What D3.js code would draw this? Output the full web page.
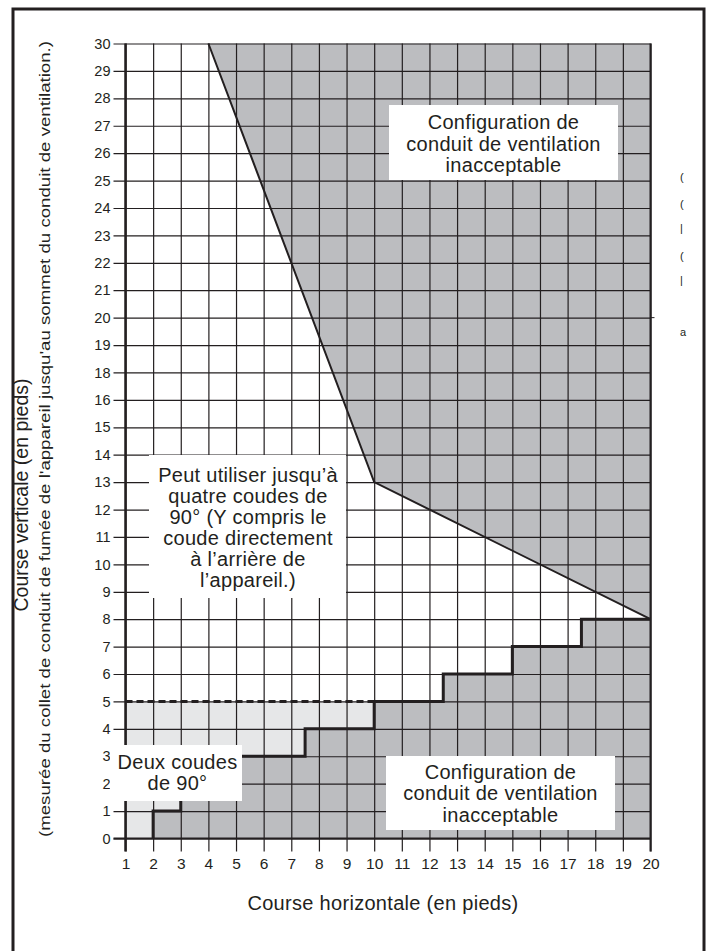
<!DOCTYPE html>
<html>
<head>
<meta charset="utf-8">
<script src="https://cdn.jsdelivr.net/npm/d3@7"></script>
<style>
  body { margin: 0; background: #fff; }
  text { font-family: "Liberation Sans", Arial, Helvetica, sans-serif; fill: #231f20; }
</style>
</head>
<body>
<div id="chart"></div>
<script>
// horizontal run (feet), 1..20
const xTicks = d3.range(1, 21);
// vertical run labels as printed (17 is missing on the original chart)
const yTickLabels = [0, 1, 2, 3, 4, 5, 6, 7, 8, 9, 10, 11, 12, 13, 14, 15, 16,
  18, 19, 20, 21, 22, 23, 24, 25, 26, 27, 28, 29, 30];

// upper limit line (horizontal, vertical)
const limitX = [4, 10, 20];
const limitY = [30, 13, 8];

// lower stair-step limit
const stepX = [2, 2, 3, 7.5, 10, 12.5, 15, 17.5, 20];
const stepY = [0, 1, 3, 4, 5, 6, 7, 8, 8];

// "two elbows" zone ceiling
const twoElbowX = [1, 10];
const twoElbowY = 5;

const width = 709;
const height = 951;

const svg = d3.select('#chart')
  .append('svg')
  .attr('width', width)
  .attr('height', height);

const x = d3.scaleLinear().domain([1, 20]).range([125.5, 650.5]);
const y = d3.scalePoint().domain(yTickLabels).range([838.5, 43.5]);

const dark = '#bcbdc0';
const light = '#e6e7e8';
const ink = '#231f20';

// outer frame
svg.append('rect')
  .attr('x', 13).attr('y', 9)
  .attr('width', 691).attr('height', 960)
  .attr('fill', 'none')
  .attr('stroke', ink)
  .attr('stroke-width', 3);

const line = d3.line().x(d => x(d[0])).y(d => y(d[1]));
const stepPts = stepX.map((v, i) => [v, stepY[i]]);
const stepLine = d3.line().x(d => x(d[0])).y(d => y(d[1])).curve(d3.curveStepAfter);

// light zone: two elbows area
const lightPoly = [[twoElbowX[0], 0]];
stepPts.forEach((p, i) => {
  if (p[0] <= twoElbowX[1] && p[1] <= twoElbowY) {
    if (i > 0) lightPoly.push([p[0], stepPts[i - 1][1]]);
    lightPoly.push(p);
  }
});
lightPoly.push([twoElbowX[0], twoElbowY]);
svg.append('path')
  .attr('d', line(lightPoly) + 'Z')
  .attr('fill', light);

// dark zone below the steps
const lowPoly = [[stepX[0], 0], [20, 0]];
const stepped = [];
stepPts.forEach((p, i) => {
  if (i > 0) stepped.push([p[0], stepPts[i - 1][1]]);
  stepped.push(p);
});
stepped.reverse().forEach(p => lowPoly.push(p));
svg.append('path')
  .attr('d', line(lowPoly) + 'Z')
  .attr('fill', dark);

// dark zone above the limit line
const highPoly = limitX.map((v, i) => [v, limitY[i]]);
highPoly.push([20, 30]);
svg.append('path')
  .attr('d', line(highPoly) + 'Z')
  .attr('fill', dark);

// grid + axes
const yAxis = d3.axisLeft(y).tickSize(12).tickPadding(4);
const gy = svg.append('g').attr('transform', `translate(${x(1)},0)`).call(yAxis);
gy.select('.domain').remove();
gy.selectAll('.tick line')
  .attr('x2', x(20) - x(1))
  .attr('x1', -12)
  .attr('stroke', ink)
  .attr('stroke-width', 1.2);
gy.selectAll('.tick text')
  .style('font-size', '14.5px')
  .attr('x', -15)
  .attr('fill', ink);

const xAxis = d3.axisBottom(x).tickValues(xTicks).tickFormat(d3.format('d')).tickSize(13).tickPadding(6);
const gx = svg.append('g').attr('transform', `translate(0,${y(0)})`).call(xAxis);
gx.select('.domain').remove();
gx.selectAll('.tick line')
  .attr('y1', y(30) - y(0))
  .attr('y2', 13)
  .attr('stroke', ink)
  .attr('stroke-width', 1.2);
gx.selectAll('.tick text')
  .style('font-size', '15.5px')
  .style('font-family', '"Liberation Sans Narrow", "Liberation Sans", Arial, sans-serif')
  .attr('fill', ink);

// heavier left and bottom edges
svg.append('line')
  .attr('x1', x(1)).attr('x2', x(1))
  .attr('y1', y(30)).attr('y2', y(0) + 13)
  .attr('stroke', ink).attr('stroke-width', 2.5);
svg.append('line')
  .attr('x1', x(1) - 12).attr('x2', x(20))
  .attr('y1', y(0)).attr('y2', y(0))
  .attr('stroke', ink).attr('stroke-width', 2.2);
svg.append('line')
  .attr('x1', x(20)).attr('x2', x(20))
  .attr('y1', y(30)).attr('y2', y(0) + 13)
  .attr('stroke', ink).attr('stroke-width', 2);
svg.append('line')
  .attr('x1', x(20)).attr('x2', x(20) + 4)
  .attr('y1', y(20)).attr('y2', y(20))
  .attr('stroke', ink).attr('stroke-width', 1);

// limit lines
svg.append('path')
  .attr('d', line(limitX.map((v, i) => [v, limitY[i]])))
  .attr('fill', 'none')
  .attr('stroke', ink)
  .attr('stroke-width', 2);

svg.append('path')
  .attr('d', stepLine(stepPts))
  .attr('fill', 'none')
  .attr('stroke', ink)
  .attr('stroke-width', 3);

svg.append('line')
  .attr('x1', x(twoElbowX[0])).attr('x2', x(twoElbowX[1]))
  .attr('y1', y(twoElbowY)).attr('y2', y(twoElbowY))
  .attr('stroke', ink)
  .attr('stroke-width', 3)
  .attr('stroke-dasharray', '7,4');

// label boxes
function box(x0, y0, w, h, lines, cx, baseY, lh) {
  svg.append('rect')
    .attr('x', x0).attr('y', y0)
    .attr('width', w).attr('height', h)
    .attr('fill', '#fff');
  const t = svg.append('text')
    .attr('text-anchor', 'middle')
    .style('font-size', '20px')
    .style('letter-spacing', '0.3px');
  lines.forEach((s, i) => {
    t.append('tspan').attr('x', cx).attr('y', baseY + i * lh).text(s);
  });
}

box(389, 105, 229, 75,
  ['Configuration de', 'conduit de ventilation', 'inacceptable'], 503.5, 129, 21.5);
box(386, 756, 229, 74,
  ['Configuration de', 'conduit de ventilation', 'inacceptable'], 500.5, 778.5, 21.6);
box(149, 455, 197, 143,
  ['Peut utiliser jusqu’à', 'quatre coudes de', '90° (Y compris le', 'coude directement', 'à l’arrière de', 'l’appareil.)'],
  248, 481.5, 21.1);
box(110, 745, 132, 56,
  ['Deux coudes', 'de 90°'], 177.5, 768.5, 21.6);

// axis titles
svg.append('text')
  .attr('x', 383).attr('y', 910)
  .attr('text-anchor', 'middle')
  .style('font-size', '20px')
  .style('letter-spacing', '0.3px')
  .text('Course horizontale (en pieds)');

svg.append('text')
  .attr('transform', 'translate(28,495) rotate(-90)')
  .attr('text-anchor', 'middle')
  .style('font-size', '19.5px')
  .text('Course verticale (en pieds)');

svg.append('text')
  .attr('transform', 'translate(50,439) rotate(-90)')
  .attr('text-anchor', 'middle')
  .style('font-size', '15.5px')
  .attr('textLength', 796)
  .attr('lengthAdjust', 'spacingAndGlyphs')
  .text('(mesurée du collet de conduit de fumée de l\'appareil jusqu\'au sommet du conduit de ventilation.)');

// clipped fragments at the right margin
const fragY = [181, 208, 232, 260, 284, 336];
const fragT = ['(', '(', '|', '(', '|', 'a'];
svg.selectAll('.frag')
  .data(fragY)
  .enter()
  .append('text')
  .attr('class', 'frag')
  .attr('x', 680).attr('y', d => d)
  .style('font-size', '11px')
  .attr('fill', '#666')
  .text((d, i) => fragT[i]);
</script>
</body>
</html>
